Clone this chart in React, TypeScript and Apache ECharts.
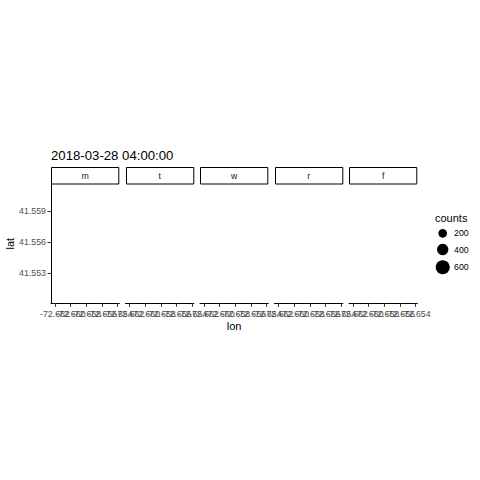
import React, { useEffect, useRef } from "react";
import * as echarts from "echarts";

// ---- data ----
const chartTitle = "2018-03-28 04:00:00";
const days = ["m", "t", "w", "r", "f"];
const lonTicks = [-72.662, -72.66, -72.658, -72.656, -72.654];
const latTicks = [41.553, 41.556, 41.559];
const lonRange = [-72.6625, -72.6538];
const latRange = [41.550115, 41.56166];
const legendCounts = [200, 400, 600];
// observations per weekday panel (none recorded at this hour)
const pointsLon: number[][] = [[], [], [], [], []];
const pointsLat: number[][] = [[], [], [], [], []];
const pointsCounts: number[][] = [[], [], [], [], []];

const FONT = "Liberation Sans, Arial, Helvetica, sans-serif";

// size scale: count -> symbol diameter in px
const sizeScale = (v: number) => 6 + v / 75;

export default function App() {
  const ref = useRef<HTMLDivElement>(null);
  useEffect(() => {
    if (!ref.current) return;
    const chart = echarts.init(ref.current, undefined, { renderer: "svg" });

    const panelLeft0 = 51;
    const panelStep = 74.5;
    const panelW = 68.3;
    const panelTop = 184;
    const panelH = 119.3;
    const stripTop = 167;
    const stripH = 16.5;

    // labels are split across two stacked axes so that ECharts keeps every (overlapping) label
    const lonEven = lonTicks.filter((_, k) => k % 2 === 0);
    const lonOdd = lonTicks.filter((_, k) => k % 2 === 1);

    const labelBase = {
      show: true,
      showMinLabel: true,
      showMaxLabel: true,
      formatter: (v: number) => v.toFixed(3),
      fontFamily: FONT,
      fontSize: 8.8,
      color: "#4D4D4D",
      margin: 6,
      hideOverlap: false,
    };

    const grids: any[] = [];
    const xAxes: any[] = [];
    const yAxes: any[] = [];
    const series: any[] = [];
    const graphics: any[] = [];

    days.forEach((d, i) => {
      const left = panelLeft0 + i * panelStep;
      grids.push({ left, top: panelTop, width: panelW, height: panelH, containLabel: false });
      xAxes.push({
        type: "value",
        gridIndex: i,
        position: "bottom",
        min: lonRange[0],
        max: lonRange[1],
        name: i === 2 ? "lon" : "",
        nameLocation: "middle",
        nameGap: 17,
        nameTextStyle: { fontFamily: FONT, fontSize: 11, color: "#000" },
        axisLine: { show: true, onZero: false, lineStyle: { color: "#000", width: 1 } },
        axisTick: { show: true, length: 3.5, customValues: lonTicks, lineStyle: { color: "#333", width: 1 } },
        axisLabel: { ...labelBase, customValues: lonEven },
        splitLine: { show: false },
      });
      xAxes.push({
        type: "value",
        gridIndex: i,
        position: "bottom",
        offset: 0,
        min: lonRange[0],
        max: lonRange[1],
        axisLine: { show: false, onZero: false },
        axisTick: { show: false },
        axisLabel: { ...labelBase, customValues: lonOdd },
        splitLine: { show: false },
      });
      yAxes.push({
        type: "value",
        gridIndex: i,
        min: latRange[0],
        max: latRange[1],
        show: i === 0,
        name: i === 0 ? "lat" : "",
        nameLocation: "middle",
        nameRotate: 90,
        nameGap: 34,
        nameTextStyle: { fontFamily: FONT, fontSize: 11, color: "#000" },
        axisLine: { show: true, onZero: false, lineStyle: { color: "#000", width: 1 } },
        axisTick: { show: true, length: 3.5, customValues: latTicks, lineStyle: { color: "#333", width: 1 } },
        axisLabel: {
          show: true,
          customValues: latTicks,
          showMinLabel: true,
          showMaxLabel: true,
          formatter: (v: number) => v.toFixed(3),
          fontFamily: FONT,
          fontSize: 8.8,
          color: "#4D4D4D",
          margin: 5,
        },
        splitLine: { show: false },
      });
      series.push({
        type: "scatter",
        xAxisIndex: 2 * i,
        yAxisIndex: i,
        data: pointsLon[i].map((x, k) => [x, pointsLat[i][k], pointsCounts[i][k]]),
        symbolSize: (val: number[]) => sizeScale(val[2]),
        itemStyle: { color: "#000" },
      });
      // facet strip
      graphics.push({
        type: "rect",
        shape: { x: Math.round(left) + 0.5, y: stripTop + 0.5, width: panelW - 1, height: stripH },
        style: { fill: "#fff", stroke: "#000", lineWidth: 1 },
      });
      graphics.push({
        type: "text",
        x: left + panelW / 2,
        y: stripTop + stripH / 2 + 0.5,
        style: {
          text: d,
          fontFamily: FONT,
          fontSize: 8.8,
          fill: "#1A1A1A",
          align: "center",
          verticalAlign: "middle",
        },
      });
    });

    // title
    graphics.push({
      type: "text",
      x: 51,
      y: 155,
      style: {
        text: chartTitle,
        fontFamily: FONT,
        fontSize: 13.2,
        fill: "#000",
        align: "left",
        verticalAlign: "middle",
      },
    });

    // size legend
    graphics.push({
      type: "text",
      x: 435,
      y: 217.7,
      style: { text: "counts", fontFamily: FONT, fontSize: 11, fill: "#000", align: "left", verticalAlign: "middle" },
    });
    const legendY = [233.3, 249.5, 267.2];
    legendCounts.forEach((c, k) => {
      graphics.push({
        type: "circle",
        shape: { cx: 442.7, cy: legendY[k], r: sizeScale(c) / 2 },
        style: { fill: "#000" },
      });
      graphics.push({
        type: "text",
        x: 454,
        y: legendY[k],
        style: { text: String(c), fontFamily: FONT, fontSize: 8.8, fill: "#000", align: "left", verticalAlign: "middle" },
      });
    });

    chart.setOption({
      animation: false,
      backgroundColor: "#fff",
      textStyle: { fontFamily: FONT },
      grid: grids,
      xAxis: xAxes,
      yAxis: yAxes,
      series,
      graphic: graphics,
    });
    return () => chart.dispose();
  }, []);

  return (
    <div
      ref={ref}
      style={{ position: "fixed", left: 0, top: 0, width: 480, height: 480, background: "#fff" }}
    />
  );
}
